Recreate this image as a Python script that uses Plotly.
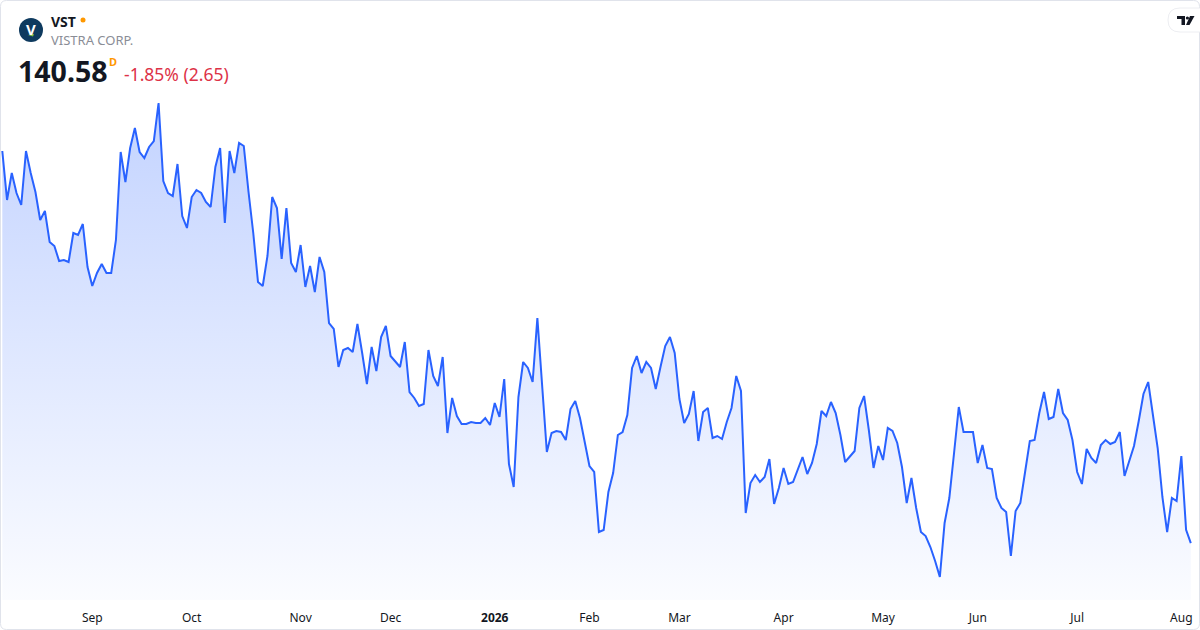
import pandas as pd
import plotly.graph_objects as go

# ---------------- data ----------------
start_date = "2025-08-05"
end_date = "2026-08-05"
market_holidays = ["2025-09-01", "2025-11-27", "2025-12-25", "2026-01-01", "2026-01-19",
                   "2026-02-16", "2026-04-03", "2026-05-25", "2026-06-19", "2026-07-03"]

close_prices = [
    219.0, 209.2, 214.6, 210.6, 208.2, 219.0, 214.6, 210.8, 205.2, 207.0,
    200.8, 200.0, 197.0, 197.2, 196.8, 202.6, 202.2, 204.4, 195.8, 192.0,
    194.6, 196.4, 194.6, 194.6, 201.2, 218.8, 212.8, 219.6, 223.6, 218.8,
    217.6, 219.8, 221.0, 228.6, 213.0, 210.6, 210.0, 216.4, 206.0, 203.6,
    209.8, 211.2, 210.6, 208.8, 207.8, 215.8, 219.6, 204.6, 219.0, 214.6,
    220.6, 220.0, 210.8, 202.6, 192.8, 192.0, 198.0, 209.8, 207.6, 197.4,
    207.6, 196.6, 194.8, 200.2, 191.8, 196.0, 190.8, 197.8, 194.8, 184.6,
    183.4, 175.8, 179.2, 179.6, 178.8, 184.4, 178.6, 172.4, 179.8, 175.0,
    181.8, 184.0, 178.0, 176.8, 175.8, 180.8, 170.8, 169.6, 168.0, 168.4,
    179.2, 174.0, 172.0, 177.8, 162.6, 169.6, 166.0, 164.4, 164.4, 164.8,
    164.6, 164.6, 165.6, 164.2, 168.6, 165.8, 173.4, 156.4, 151.8, 169.8,
    176.8, 175.6, 172.8, 185.6, 171.2, 158.8, 162.6, 163.0, 162.8, 161.2,
    167.4, 169.0, 165.6, 160.8, 156.0, 154.8, 142.8, 143.2, 150.8, 154.6,
    162.2, 162.8, 166.2, 175.6, 178.0, 174.6, 176.8, 175.6, 171.4, 175.8,
    180.0, 181.8, 178.6, 169.4, 164.6, 166.4, 171.0, 161.0, 166.8, 167.6,
    161.6, 162.0, 161.4, 164.8, 167.6, 174.0, 171.0, 146.6, 152.6, 154.2,
    152.8, 153.8, 157.4, 148.4, 151.6, 155.6, 152.4, 152.8, 155.4, 157.8,
    154.4, 156.6, 160.4, 167.0, 166.0, 168.8, 166.6, 162.2, 156.8, 157.8,
    159.0, 167.6, 170.0, 163.2, 155.6, 160.0, 157.2, 163.6, 163.0, 160.6,
    155.8, 148.6, 153.6, 147.6, 142.8, 142.0, 139.8, 137.0, 133.8, 144.6,
    149.6, 158.6, 167.8, 162.8, 162.8, 162.8, 156.6, 160.2, 155.6, 155.4,
    149.6, 147.6, 146.8, 138.0, 147.0, 148.6, 154.8, 161.0, 161.2, 166.6,
    170.8, 165.4, 165.8, 171.4, 166.6, 165.2, 161.2, 154.8, 152.4, 159.4,
    157.6, 156.6, 160.2, 161.2, 160.4, 160.8, 162.8, 154.0, 157.0, 160.0,
    165.0, 170.4, 172.8, 166.6, 159.6, 149.8, 142.8, 149.6, 149.0, 158.0,
    143.23, 140.58,
]

tick_dates = ["2025-09-02", "2025-10-01", "2025-11-03", "2025-12-01", "2026-01-02", "2026-02-02",
              "2026-03-02", "2026-04-01", "2026-05-01", "2026-06-01", "2026-07-01", "2026-08-03"]
tick_labels = ["Sep", "Oct", "Nov", "Dec", "<b>2026</b>", "Feb", "Mar", "Apr", "May", "Jun", "Jul", "Aug"]

symbol = "VST"
company = "VISTRA CORP."
last_price = "140.58"
change_text = "-1.85% (2.65)"

# ---------------- build ----------------
dates = pd.bdate_range(start_date, end_date, freq="C", holidays=market_holidays)
dates = [d.strftime("%Y-%m-%d") for d in dates]
n = min(len(dates), len(close_prices))
dates = dates[:n]
close_prices = close_prices[:n]

W, H_PLOT = 1200, 600
FONT = "Noto Sans, Open Sans, sans-serif"


def px(x):
    return x / W


def py(y):
    return 1 - y / H_PLOT


Y_TOP, Y_BOT = 249.2, 129.2

fig = go.Figure()
fig.add_trace(go.Scatter(
    x=dates, y=close_prices, mode="lines",
    line=dict(color="#2962FF", width=2),
    fill="tozeroy",
    fillgradient=dict(type="vertical", start=Y_BOT, stop=max(close_prices),
                      colorscale=[[0, "rgba(41,98,255,0.02)"], [1, "rgba(41,98,255,0.28)"]]),
    hoverinfo="skip",
))

shapes = []
annotations = []

# outer border (rounded)
r = 6
x0, x1, y0, y1 = 0.5, W - 0.5, 0.5, 629.5
border_path = (
    f"M {px(x0 + r)},{py(y0)} L {px(x1 - r)},{py(y0)} Q {px(x1)},{py(y0)} {px(x1)},{py(y0 + r)} "
    f"L {px(x1)},{py(y1 - r)} Q {px(x1)},{py(y1)} {px(x1 - r)},{py(y1)} "
    f"L {px(x0 + r)},{py(y1)} Q {px(x0)},{py(y1)} {px(x0)},{py(y1 - r)} "
    f"L {px(x0)},{py(y0 + r)} Q {px(x0)},{py(y0)} {px(x0 + r)},{py(y0)} Z"
)
shapes.append(dict(type="path", xref="paper", yref="paper", path=border_path,
                   line=dict(color="#E0E3EB", width=1), layer="above"))

# logo circle
shapes.append(dict(type="circle", xref="paper", yref="paper", x0=px(19), x1=px(43), y0=py(42), y1=py(18),
                   fillcolor="#0E3A5F", line=dict(width=0), layer="above"))
annotations.append(dict(x=px(31), y=py(29), xref="paper", yref="paper", text="<b>V</b>", showarrow=False,
                        font=dict(family=FONT, size=15, color="white"), xanchor="center", yanchor="middle"))
shapes.append(dict(type="path", xref="paper", yref="paper",
                   path=f"M {px(28)},{py(35)} L {px(34)},{py(34)} L {px(33)},{py(36.5)} Z",
                   fillcolor="#7DC242", line=dict(width=0), layer="above"))

# orange dot
shapes.append(dict(type="circle", xref="paper", yref="paper", x0=px(80.5), x1=px(85.5), y0=py(22.5), y1=py(17.5),
                   fillcolor="#FF9800", line=dict(width=0), layer="above"))

annotations += [
    dict(x=px(49), y=py(21), text=f"<b>{symbol}</b>", font=dict(family=FONT, size=14, color="#131722")),
    dict(x=px(49), y=py(40), text=company, font=dict(family=FONT, size=13, color="#8A8D96")),
    dict(x=px(16), y=py(71), text=f"<b>{last_price}</b>", font=dict(family=FONT, size=28.5, color="#131722")),
    dict(x=px(107), y=py(61), text="<b>D</b>", font=dict(family=FONT, size=11, color="#FF9800")),
    dict(x=px(122), y=py(74), text=change_text, font=dict(family=FONT, size=17.5, color="#DD3247")),
]
for a in annotations[-5:]:
    a.update(xref="paper", yref="paper", showarrow=False, xanchor="left", yanchor="middle")

# TradingView badge
bx0, bx1, by0, by1, br = 1168, 1206, 8, 32, 12
badge = (f"M {px(bx0 + br)},{py(by0)} L {px(bx1)},{py(by0)} L {px(bx1)},{py(by1)} "
         f"L {px(bx0 + br)},{py(by1)} Q {px(bx0)},{py(by1)} {px(bx0)},{py(by1 - br)} "
         f"Q {px(bx0)},{py(by0)} {px(bx0 + br)},{py(by0)} Z")
shapes.append(dict(type="path", xref="paper", yref="paper", path=badge,
                   fillcolor="white", line=dict(color="#EDEEF2", width=1), layer="above"))
tv_t = (f"M {px(1177)},{py(16)} L {px(1185)},{py(16)} L {px(1185)},{py(25)} L {px(1181.5)},{py(25)} "
        f"L {px(1181.5)},{py(19)} L {px(1177)},{py(19)} Z")
tv_v = f"M {px(1190)},{py(16)} L {px(1194.5)},{py(16)} L {px(1189.5)},{py(25)} L {px(1186)},{py(25)} Z"
shapes.append(dict(type="path", xref="paper", yref="paper", path=tv_t, fillcolor="#131722",
                   line=dict(width=0), layer="above"))
shapes.append(dict(type="path", xref="paper", yref="paper", path=tv_v, fillcolor="#131722",
                   line=dict(width=0), layer="above"))
shapes.append(dict(type="circle", xref="paper", yref="paper", x0=px(1185.8), x1=px(1189), y0=py(19.6),
                   y1=py(16.4), fillcolor="#131722", line=dict(width=0), layer="above"))

fig.update_layout(
    width=1200, height=630,
    margin=dict(l=0, r=0, t=0, b=30),
    paper_bgcolor="white", plot_bgcolor="white",
    showlegend=False,
    shapes=shapes,
    annotations=annotations,
    xaxis=dict(type="category", range=[-0.486, 252.94], tickmode="array",
               tickvals=tick_dates, ticktext=tick_labels,
               showgrid=False, zeroline=False, showline=False, ticks="",
               tickfont=dict(family=FONT, size=12, color="#131722"),
               ticklabelstandoff=9, fixedrange=True),
    yaxis=dict(range=[Y_BOT, Y_TOP], visible=False, fixedrange=True),
    font=dict(family=FONT),
)

fig.write_html(
    "out.html",
    config={"displayModeBar": False},
    post_script="document.body.style.margin='0';document.body.style.overflow='hidden';",
)
